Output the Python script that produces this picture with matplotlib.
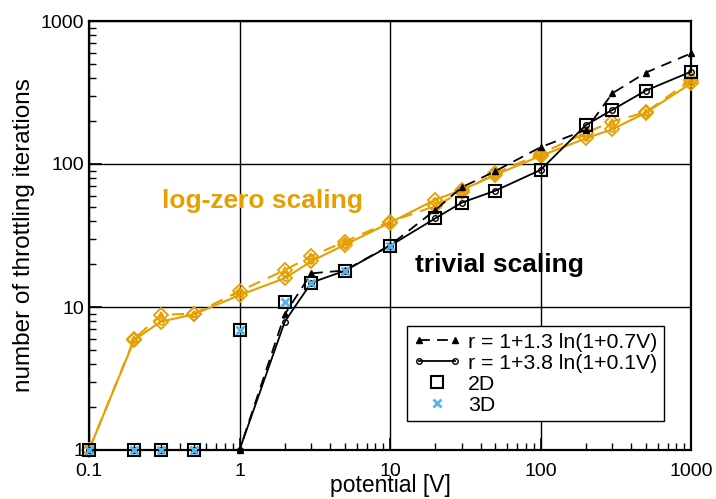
import numpy as np
import matplotlib
matplotlib.use('Agg')
import matplotlib.pyplot as plt
from matplotlib.ticker import LogLocator, NullFormatter, FixedLocator, FixedFormatter
from matplotlib.legend_handler import HandlerLine2D

plt.rcParams['font.family'] = ['Liberation Sans', 'DejaVu Sans']

# potential [V]
V = [0.1, 0.2, 0.3, 0.5, 1, 2, 3, 5, 10, 20, 30, 50, 100, 200, 300, 500, 1000]

# trivial scaling (black)
triv_a = [1, 1, 1, 1, 1, 8.9, 17.2, 18, 27, 47.7, 68.7, 89, 131, 173, 312, 435, 594]   # r = 1+1.3 ln(1+0.7V)
triv_b = [1, 1, 1, 1, 1, 7.9, 14.8, 17.9, 26.8, 41.7, 53.7, 65, 90.8, 187, 239, 326, 442]  # r = 1+3.8 ln(1+0.1V)

# log-zero scaling (orange)
lz_a = [1, 6.0, 8.8, 9.0, 12.9, 18.1, 22.7, 28.6, 39.5, 50.8, 64, 86, 118, 165, 198, 230, 387]
lz_b = [1, 5.9, 7.9, 8.9, 12.1, 15.9, 20.9, 27.2, 38.9, 56.3, 65.8, 83.8, 114, 151, 175, 228, 366]

# plain runs
V2 = [0.1, 0.2, 0.3, 0.5, 1, 2, 3, 5, 10, 20, 30, 50, 100, 200, 300, 500, 1000]
n2d = [1, 1, 1, 1, 6.9, 10.9, 14.8, 17.9, 26.8, 41.7, 53.7, 65, 90.8, 187, 239, 326, 442]
V3 = [0.1, 0.2, 0.3, 0.5, 1, 2, 3, 5, 10]
n3d = [1, 1, 1, 1, 6.9, 10.9, 14.8, 17.9, 26.8]

orange = '#E69F00'
cyan = '#56B4E9'

W, H = 716, 499
fig = plt.figure(figsize=(W / 100, H / 100), dpi=100)
ax = fig.add_axes([89 / W, 1 - 450 / H, (691 - 89) / W, (450 - 21) / H])

ax.set_xscale('log')
ax.set_yscale('log')
ax.set_xlim(0.1, 1000)
ax.set_ylim(1, 1000)

ax.grid(True, which='major', color='black', lw=1.0)
ax.set_axisbelow(True)

# orange curves
ax.plot(V, lz_a, '--', color=orange, lw=1.5, dashes=(6, 4), zorder=3, clip_on=False)
ax.plot(V, lz_a, 'D', ms=7.5, mfc='none', mec=orange, mew=1.3, zorder=3, clip_on=False)
ax.plot(V, lz_a, '^', ms=4.5, mfc='none', mec=orange, mew=1.2, zorder=3, clip_on=False)
ax.plot(V, lz_b, '-', color=orange, lw=1.5, zorder=3, clip_on=False)
ax.plot(V, lz_b, 'D', ms=7.5, mfc='none', mec=orange, mew=1.3, zorder=3, clip_on=False)
ax.plot(V, lz_b, 'o', ms=3.5, mfc='none', mec=orange, mew=1.2, zorder=3, clip_on=False)

# black curves
la, = ax.plot(V, triv_a, '--', color='black', lw=1.3, dashes=(6, 4), marker='^', ms=5,
              mfc='black', mec='black', zorder=4, clip_on=False,
              label='r = 1+1.3 ln(1+0.7V)')
lb, = ax.plot(V, triv_b, '-', color='black', lw=1.3, marker='o', ms=4,
              mfc='none', mec='black', mew=1.0, zorder=4, clip_on=False,
              label='r = 1+3.8 ln(1+0.1V)')

# 2D / 3D runs
s2, = ax.plot(V2, n2d, 's', ms=8.5, mfc='none', mec='black', mew=1.5, ls='none',
              zorder=5, clip_on=False, label='2D')
s3, = ax.plot(V3, n3d, 'x', ms=6, mec=cyan, mew=2.0, ls='none',
              zorder=6, clip_on=False, label='3D')

fig.text(262 / W, 1 - 201 / H, 'log-zero scaling', color=orange, fontsize=19,
         fontweight='bold', ha='center', va='center')
fig.text(415 / W, 1 - 265 / H, 'trivial scaling', color='black', fontsize=19,
         fontweight='bold', ha='left', va='center')

ax.xaxis.set_major_locator(FixedLocator([0.1, 1, 10, 100, 1000]))
ax.xaxis.set_major_formatter(FixedFormatter(['0.1', '1', '10', '100', '1000']))
ax.yaxis.set_major_locator(FixedLocator([1, 10, 100, 1000]))
ax.yaxis.set_major_formatter(FixedFormatter(['1', '10', '100', '1000']))
ax.xaxis.set_minor_locator(LogLocator(base=10, subs=np.arange(2, 10), numticks=20))
ax.yaxis.set_minor_locator(LogLocator(base=10, subs=np.arange(2, 10), numticks=20))
ax.xaxis.set_minor_formatter(NullFormatter())
ax.yaxis.set_minor_formatter(NullFormatter())
ax.tick_params(which='both', direction='in', top=False, right=False, labelsize=14)
ax.tick_params(which='major', length=9, width=1.2)
ax.tick_params(which='minor', length=5, width=1.0)
ax.tick_params(axis='x', pad=9)

for sp in ax.spines.values():
    sp.set_linewidth(1.6)

ax.set_xlabel('potential [V]', fontsize=16.5, labelpad=-4)
ax.set_ylabel('number of throttling iterations', fontsize=17.5, labelpad=4)

leg = ax.legend(handles=[la, lb, s2, s3], loc='lower right',
                bbox_to_anchor=(0.955, 0.067), fontsize=15.3, frameon=True,
                fancybox=False, edgecolor='black', framealpha=1,
                handlelength=2.3, handletextpad=0.3, borderpad=0.3,
                labelspacing=0.1, numpoints=2, borderaxespad=0,
                handler_map={s2: HandlerLine2D(numpoints=1),
                             s3: HandlerLine2D(numpoints=1)})
leg.get_frame().set_linewidth(1.0)

fig.savefig('out.png', dpi=100)
